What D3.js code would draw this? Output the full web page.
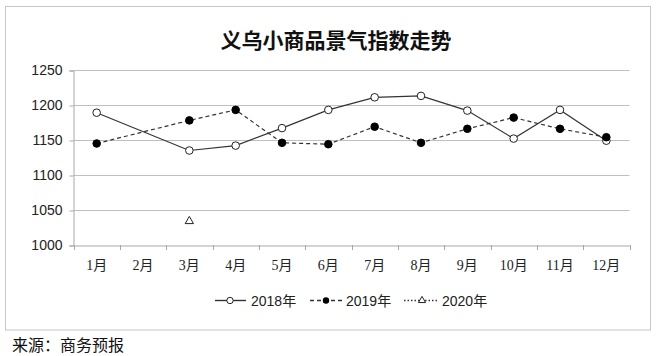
<!DOCTYPE html>
<html><head><meta charset="utf-8">
<script src="https://cdn.jsdelivr.net/npm/d3@7/dist/d3.min.js"></script>
<style>
body{margin:0;background:#fff;}
svg{display:block;}
</style></head>
<body>
<script>
const months = ["1月","2月","3月","4月","5月","6月","7月","8月","9月","10月","11月","12月"];
const s2018 = [1189, null, 1135, 1142, 1167, 1193, 1211, 1213, 1192, 1152, 1193, 1149];
const s2019 = [1145, null, 1178, 1193, 1146, 1144, 1169, 1146, 1166, 1182, 1166, 1154];
const s2020 = [null, null, 1034, null, null, null, null, null, null, null, null, null];
const yTicks = [1000, 1050, 1100, 1150, 1200, 1250];
const seriesNames = ["2018年","2019年","2020年"];
const title = "义乌小商品景气指数走势";
const source = "来源：商务预报";

const W = 658, H = 356;
const svg = d3.select("body").append("svg").attr("width", W).attr("height", H);

svg.append("rect").attr("x",5.5).attr("y",6.5).attr("width",645).attr("height",323.5)
  .attr("fill","#fff").attr("stroke","#c8c8c8").attr("stroke-width",1);

const x = d3.scaleBand().domain(months).range([73.5, 629.5]);
const y = d3.scaleLinear().domain([1000, 1250]).range([245, 70]);

const cjk = "'Noto Sans CJK SC', sans-serif";
svg.append("text").attr("x", 336).attr("y", 48).attr("text-anchor","middle")
  .attr("font-family", cjk).attr("font-weight","bold").attr("font-size",21)
  .attr("fill","#111").text(title);

// grid
svg.append("g").selectAll("line").data(yTicks.filter(d=>d>1000)).join("line")
  .attr("x1",73.5).attr("x2",629.5).attr("y1",d=>Math.round(y(d))+0.5).attr("y2",d=>Math.round(y(d))+0.5)
  .attr("stroke","#c0c0c0").attr("stroke-width",1);

// y axis
const yAxis = d3.axisLeft(y).tickValues(yTicks).tickSize(4).tickPadding(7).tickFormat(d3.format("d"));
const gy = svg.append("g").attr("transform","translate(73.5,0.5)").call(yAxis);
gy.select(".domain").attr("stroke","#a8a8a8");
gy.selectAll(".tick line").attr("stroke","#a8a8a8");
gy.selectAll("text").attr("font-family","'Liberation Sans', Arial, sans-serif").attr("font-size",14).attr("fill","#222");

// x axis
const xAxis = d3.axisBottom(x).tickSize(0).tickPadding(15);
const gx = svg.append("g").attr("transform","translate(0,245.5)").call(xAxis);
gx.select(".domain").attr("stroke","#a8a8a8");
gx.selectAll("text").attr("font-family","'Liberation Serif', 'Noto Sans CJK SC', serif").attr("font-size",14).attr("fill","#222");
// boundary tick marks
const bounds = months.map(m => x(m)).concat([x.range()[1]]);
svg.append("g").selectAll("line").data(bounds).join("line")
  .attr("x1",d=>Math.round(d)+0.5).attr("x2",d=>Math.round(d)+0.5).attr("y1",245).attr("y2",250)
  .attr("stroke","#a8a8a8");

const cx = i => x(months[i]) + x.bandwidth()/2;
const lineGen = d3.line().x(d=>cx(d.i)).y(d=>y(d.v));
const pts = arr => arr.map((v,i)=>({i,v})).filter(d=>d.v!=null);

svg.append("path").attr("d", lineGen(pts(s2019))).attr("fill","none")
  .attr("stroke","#333").attr("stroke-width",1.2).attr("stroke-dasharray","4,3");
svg.append("path").attr("d", lineGen(pts(s2018))).attr("fill","none")
  .attr("stroke","#333").attr("stroke-width",1.2);

svg.append("g").selectAll("circle").data(pts(s2018)).join("circle")
  .attr("cx",d=>cx(d.i)).attr("cy",d=>y(d.v)).attr("r",3.8)
  .attr("fill","#fff").attr("stroke","#222").attr("stroke-width",1);
svg.append("g").selectAll("circle").data(pts(s2019)).join("circle")
  .attr("cx",d=>cx(d.i)).attr("cy",d=>y(d.v)).attr("r",3.8)
  .attr("fill","#000").attr("stroke","#000").attr("stroke-width",1);
const tri = d3.symbol().type(d3.symbolTriangle).size(30);
svg.append("g").selectAll("path").data(pts(s2020)).join("path")
  .attr("transform",d=>`translate(${cx(d.i)},${y(d.v)})`).attr("d",tri())
  .attr("fill","#fff").attr("stroke","#222").attr("stroke-width",1);

// legend
const ly = 300.5;
const lg = svg.append("g");
const legendItems = [
  {x0:215, x1:246, mx:230, tx:251, dash:null, mark:"open"},
  {x0:310, x1:342, mx:326, tx:346, dash:"4,3", mark:"filled"},
  {x0:404, x1:438, mx:422, tx:442, dash:"1.5,2", mark:"tri"}
];
legendItems.forEach((it, k) => {
  lg.append("line").attr("x1",it.x0).attr("x2",it.x1).attr("y1",ly).attr("y2",ly)
    .attr("stroke","#333").attr("stroke-width",1.4).attr("stroke-dasharray", it.dash);
  if (it.mark === "open") lg.append("circle").attr("cx",it.mx).attr("cy",ly).attr("r",3.2).attr("fill","#fff").attr("stroke","#222");
  if (it.mark === "filled") lg.append("circle").attr("cx",it.mx).attr("cy",ly).attr("r",3.2).attr("fill","#000");
  if (it.mark === "tri") lg.append("path").attr("transform",`translate(${it.mx},${ly})`).attr("d",d3.symbol().type(d3.symbolTriangle).size(22)()).attr("fill","#fff").attr("stroke","#222");
  lg.append("text").attr("x",it.tx).attr("y",ly+5).attr("font-family","'Liberation Sans', 'Noto Sans CJK SC', sans-serif")
    .attr("font-size",14).attr("fill","#222").text(seriesNames[k]);
});

svg.append("text").attr("x",12).attr("y",351).attr("font-family",cjk).attr("font-size",16)
  .attr("fill","#111").text(source);
</script>
</body></html>
